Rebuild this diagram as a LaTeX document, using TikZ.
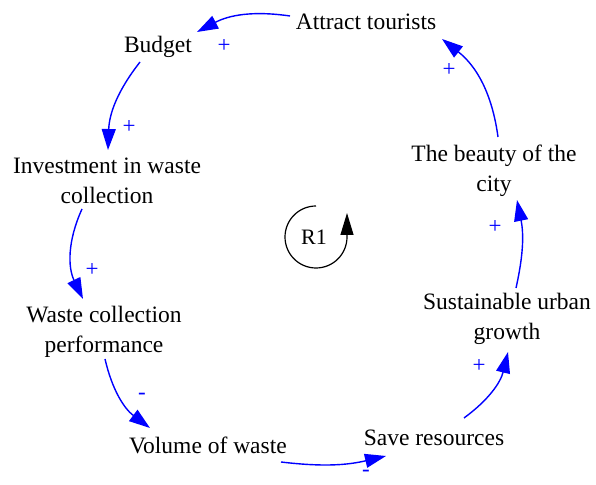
\documentclass[tikz,border=0pt]{standalone}
\usepackage{fontspec}
\setmainfont{Liberation Serif}
\usetikzlibrary{arrows.meta,calc}
\begin{document}
\begin{tikzpicture}[x=1pt,y=1pt,
  var/.style={font=\fontsize{23.5}{30}\selectfont, align=center, inner sep=0pt, text=black},
  link/.style={draw=blue, line width=1.4pt, -{Triangle[length=21pt,width=14pt]}},
  pol/.style={font=\fontsize{23}{30}\selectfont, text=blue, inner sep=0pt},
  loopmark/.style={draw=black, line width=1.2pt, -{Triangle[length=22pt,width=13pt]}}]
\useasboundingbox (0,0) rectangle (596,484);

\node[var] (AT) at (366,462) {Attract tourists};
\node[var] (BU) at (158,437) {Budget};
\node[var] (IN) at (107,303) {Investment in waste\\collection};
\node[var] (WC) at (104,152) {Waste collection\\performance};
\node[var] (VW) at (208,39) {Volume of waste};
\node[var] (SR) at (434,46) {Save resources};
\node[var] (SU) at (507,165) {Sustainable urban\\growth};
\node[var] (BE) at (494,313) {The beauty of the\\city};
\node[var, font=\fontsize{22}{26}\selectfont] (R1) at (314,247) {R1};

\draw[link] ($(AT)+(-76,6)$) to[bend right=18] ($(BU)+(39,15)$);
\draw[link] ($(BU)+(-18,-15)$) to[bend right=18] ($(IN)+(1,31)$);
\draw[link] ($(IN)+(-25,-28)$) to[bend right=25] ($(WC)+(-21,33)$);
\draw[link] ($(WC)+(1,-27)$) to[bend right=20] ($(VW)+(-58,17)$);
\draw[link] ($(VW)+(73,-17)$) to[bend right=10] ($(SR)+(-48,-18)$);
\draw[link] ($(SR)+(30,20)$) to[bend right=20] ($(SU)+(1,-33)$);
\draw[link] ($(SU)+(9,31)$) to[bend right=12] ($(BE)+(23,-29)$);
\draw[link] ($(BE)+(4,34)$) to[bend right=22] ($(AT)+(76,-17)$);

\node[pol] (p1) at (224,438) {+};
\node[pol] (p2) at (129,357) {+};
\node[pol] (p3) at (92,214) {+};
\node[pol] (p4) at (142,88) {-};
\node[pol] (p5) at (366,11) {-};
\node[pol] (p6) at (479,118) {+};
\node[pol] (p7) at (495,257) {+};
\node[pol] (p8) at (449,414) {+};

\coordinate (L0) at ($(R1)+(2,31)$);
\draw[loopmark] (L0) arc[start angle=90, end angle=360, radius=31] -- ++(0,24);
\end{tikzpicture}
\end{document}
